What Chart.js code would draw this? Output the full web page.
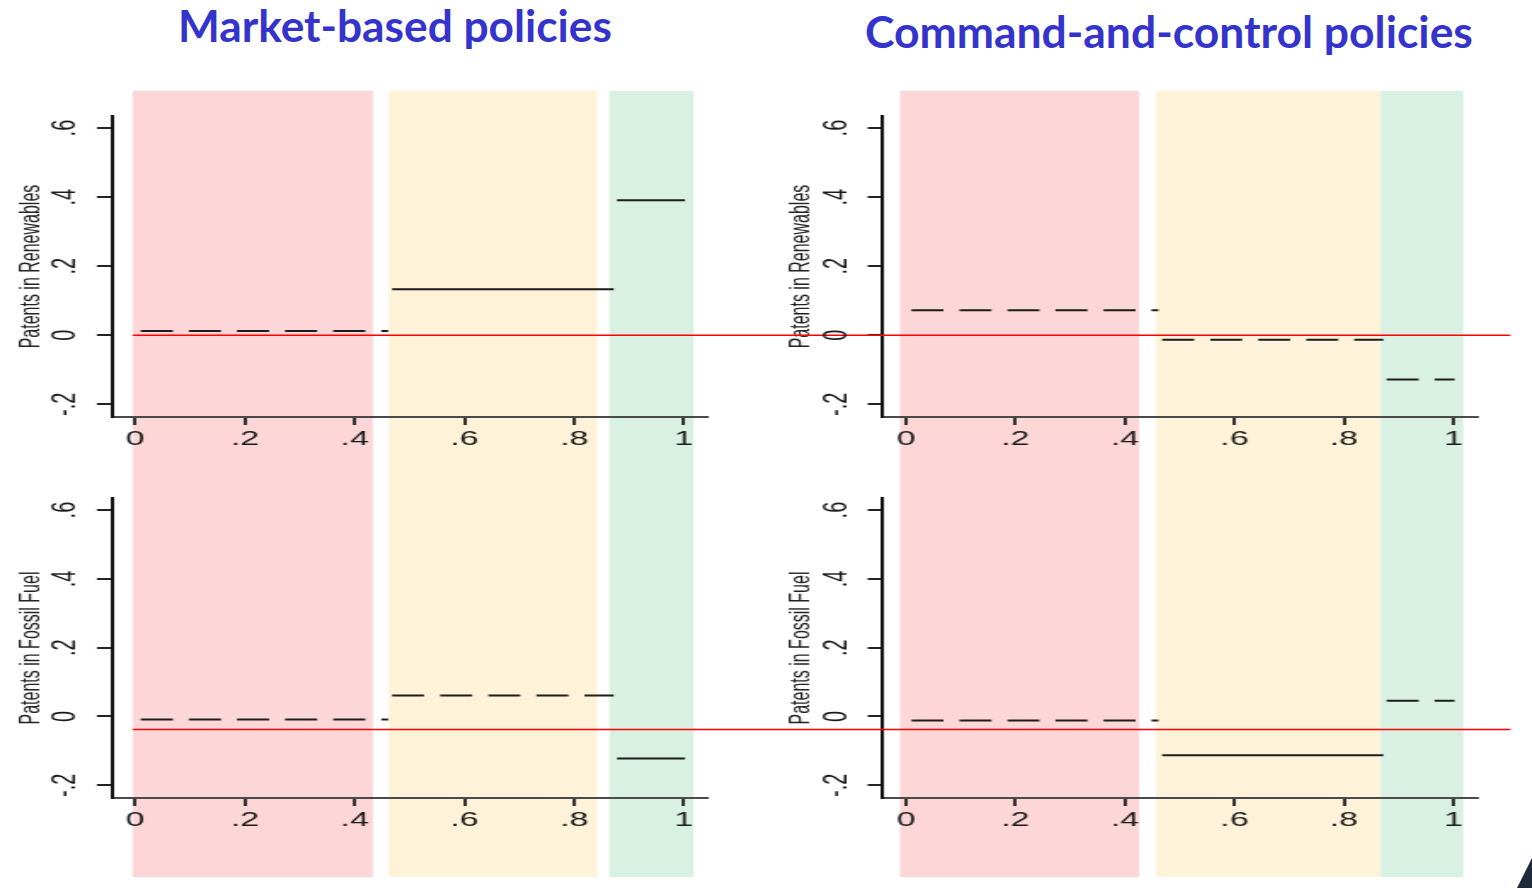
<!DOCTYPE html>
<html>
<head>
<meta charset="utf-8">
<title>Policy effects on patents</title>
<script src="https://cdn.jsdelivr.net/npm/chart.js@4.4.1/dist/chart.umd.min.js"></script>
<style>
  html, body { margin: 0; padding: 0; background: #fff; }
  body { width: 1532px; height: 888px; position: relative; overflow: hidden; }
  .title { position: absolute; color: #3434cc; font-family: Lato, "Open Sans", sans-serif; font-weight: 700; white-space: nowrap; line-height: 1; }
  .panel { position: absolute; transform-origin: 0 0; }
  .panel canvas { display: block; }
  .corner { position: absolute; left: 1512px; top: 858px; width: 20px; height: 30px; background: #1f2b3a; clip-path: polygon(100% 0, 100% 100%, 25% 100%); }
</style>
</head>
<body>
<div class="title" id="titleLeft">Market-based policies</div>
<div class="title" id="titleRight">Command-and-control policies</div>

<div class="panel" id="wrap-mb-renew"><canvas id="mb-renew"></canvas></div>
<div class="panel" id="wrap-cc-renew"><canvas id="cc-renew"></canvas></div>
<div class="panel" id="wrap-mb-fossil"><canvas id="mb-fossil"></canvas></div>
<div class="panel" id="wrap-cc-fossil"><canvas id="cc-fossil"></canvas></div>
<div class="corner"></div>

<script>
// axis ticks
const xTicks = [0, 0.2, 0.4, 0.6, 0.8, 1];
const yTicks = [-0.2, 0, 0.2, 0.4, 0.6];

// the three groups along x: start / end of each step
const segFrom = [0.01, 0.468, 0.878];
const segTo = [0.461, 0.872, 1.002];

// estimated effects per group (solid = significant, dashed = not)
const mbRenew = [0.012, 0.133, 0.391];
const mbRenewSolid = [false, true, true];
const mbFossil = [-0.009, 0.061, -0.122];
const mbFossilSolid = [false, false, true];
const ccRenew = [0.072, -0.013, -0.128];
const ccRenewSolid = [false, false, false];
const ccFossil = [-0.012, -0.113, 0.046];
const ccFossilSolid = [false, true, false];

// shaded ranges behind each column
const mbBands = [[-0.005, 0.433], [0.462, 0.842], [0.864, 1.018]];
const ccBands = [[-0.011, 0.426], [0.457, 0.867], [0.867, 1.018]];
const bandColors = ['#fdd6d7', '#fef3d8', '#d8f1e3'];

// red reference lines (top row, bottom row)
const refLevels = [0, -0.038];

const STRETCH = 1.7;
const FONT = '"Liberation Sans", Arial, sans-serif';

function fmt(v) {
  return String(+v.toFixed(2)).replace(/^(-?)0\./, '$1.');
}

function bandsPlugin(bands) {
  return {
    id: 'bands',
    beforeDraw(chart) {
      const ctx = chart.ctx;
      const xs = chart.scales.x;
      ctx.save();
      bands.forEach((b, i) => {
        const x1 = xs.getPixelForValue(b[0]);
        const x2 = xs.getPixelForValue(b[1]);
        ctx.fillStyle = bandColors[i];
        ctx.fillRect(x1, 0, x2 - x1, chart.height);
      });
      ctx.restore();
    }
  };
}

function refLinePlugin(level, from, to) {
  return {
    id: 'refline',
    afterDatasetsDraw(chart) {
      const ctx = chart.ctx;
      const xs = chart.scales.x;
      const y = chart.scales.y.getPixelForValue(level);
      const x1 = from === null ? 0 : xs.getPixelForValue(from);
      const x2 = to === null ? chart.width : xs.getPixelForValue(to);
      ctx.save();
      ctx.strokeStyle = '#ff0000';
      ctx.lineWidth = 1.5;
      ctx.beginPath();
      ctx.moveTo(x1, y);
      ctx.lineTo(x2, y);
      ctx.stroke();
      ctx.restore();
    }
  };
}

// y labels are drawn turned on their side
const yLabelPlugin = {
  id: 'ylabels',
  afterDraw(chart) {
    const ctx = chart.ctx;
    const ys = chart.scales.y;
    const x = chart.chartArea.left - 27.4;
    ctx.save();
    ctx.fillStyle = '#1a1a1a';
    ctx.font = '20px ' + FONT;
    ctx.textAlign = 'center';
    ctx.textBaseline = 'middle';
    ys.ticks.forEach(t => {
      ctx.save();
      ctx.translate(x, ys.getPixelForValue(t.value));
      ctx.rotate(-Math.PI / 2);
      ctx.fillText(fmt(t.value), 0, 0);
      ctx.restore();
    });
    ctx.restore();
  }
};

function makePanel(id, p) {
  const wrap = document.getElementById('wrap-' + id);
  wrap.style.left = p.left + 'px';
  wrap.style.top = p.top + 'px';
  wrap.style.width = (p.width / STRETCH) + 'px';
  wrap.style.height = p.height + 'px';
  wrap.style.transform = 'scaleX(' + STRETCH + ')';

  const datasets = p.values.map((v, i) => ({
    data: [{ x: segFrom[i], y: v }, { x: segTo[i], y: v }],
    borderColor: '#1c1c1c',
    borderWidth: 2,
    borderDash: p.solid[i] ? [] : [32 / STRETCH, 16 / STRETCH],
    borderCapStyle: 'butt',
    pointRadius: 0,
    fill: false
  }));

  return new Chart(document.getElementById(id), {
    type: 'line',
    data: { datasets },
    options: {
      responsive: true,
      maintainAspectRatio: false,
      animation: false,
      layout: { padding: { top: p.padTop, right: p.padRight, left: 0, bottom: 0 } },
      plugins: { legend: { display: false }, tooltip: { enabled: false } },
      scales: {
        x: {
          type: 'linear',
          min: -0.042,
          max: 1.043,
          afterBuildTicks: s => { s.ticks = xTicks.map(v => ({ value: v })); },
          afterFit: s => { s.height = p.xHeight; },
          ticks: {
            callback: v => fmt(v),
            font: { family: FONT, size: 20 },
            color: '#1a1a1a',
            padding: 2,
            maxRotation: 0,
            autoSkip: false
          },
          grid: { drawOnChartArea: false, drawTicks: true, tickLength: 8, tickColor: '#333', lineWidth: 2 },
          border: { display: true, color: '#4a4a4a', width: 2 }
        },
        y: {
          type: 'linear',
          min: -0.237,
          max: 0.635,
          afterBuildTicks: s => { s.ticks = yTicks.map(v => ({ value: v })); },
          afterFit: s => { s.width = p.yWidth; },
          ticks: { display: false },
          grid: { drawOnChartArea: false, drawTicks: true, tickLength: 9, tickColor: '#222', lineWidth: 2 },
          border: { display: true, color: '#111', width: 2 },
          title: {
            display: true,
            text: p.yTitle,
            font: { family: FONT, size: 16 },
            color: '#222',
            padding: { top: 9, bottom: 0 }
          }
        }
      }
    },
    plugins: [bandsPlugin(p.bands), refLinePlugin(p.ref, p.refFrom, p.refTo), yLabelPlugin]
  });
}

const leftCol = { left: 0, width: 770, yWidth: 112 / STRETCH, padRight: (770 - 706) / STRETCH };
const rightCol = { left: 770, width: 762, yWidth: (883 - 770) / STRETCH, padRight: (1532 - 1477) / STRETCH };
const topRow = { top: 91, height: 375, padTop: 25, xHeight: 49, yTitle: 'Patents in Renewables', ref: refLevels[0] };
const bottomRow = { top: 466, height: 411, padTop: 32, xHeight: 79, yTitle: 'Patents in Fossil Fuel', ref: refLevels[1] };

makePanel('mb-renew', { ...leftCol, ...topRow, values: mbRenew, solid: mbRenewSolid, bands: mbBands, refFrom: mbBands[0][0], refTo: null });
makePanel('cc-renew', { ...rightCol, ...topRow, values: ccRenew, solid: ccRenewSolid, bands: ccBands, refFrom: null, refTo: 1.104 });
makePanel('mb-fossil', { ...leftCol, ...bottomRow, values: mbFossil, solid: mbFossilSolid, bands: mbBands, refFrom: mbBands[0][0], refTo: null });
makePanel('cc-fossil', { ...rightCol, ...bottomRow, values: ccFossil, solid: ccFossilSolid, bands: ccBands, refFrom: null, refTo: 1.104 });

// size the column headings to their spans
function placeTitle(id, left, width, baseline) {
  const el = document.getElementById(id);
  const ctx = document.createElement('canvas').getContext('2d');
  ctx.font = '700 100px Lato, "Open Sans", sans-serif';
  const size = 100 * width / ctx.measureText(el.textContent).width;
  el.style.fontSize = size + 'px';
  el.style.left = left + 'px';
  el.style.top = (baseline - 0.887 * size) + 'px';
}
placeTitle('titleLeft', 178, 434, 42);
placeTitle('titleRight', 865, 608, 48);
</script>
</body>
</html>
